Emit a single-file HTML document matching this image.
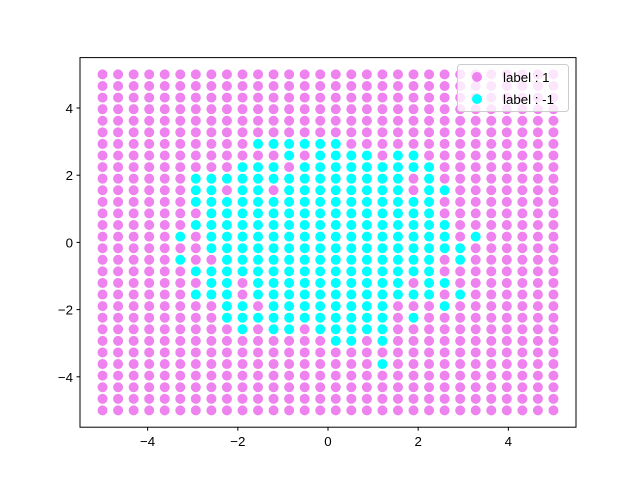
<!DOCTYPE html>
<html><head><meta charset="utf-8"><style>
body{margin:0;background:#fff}
svg{display:block;font-family:"Liberation Sans","DejaVu Sans",sans-serif}
</style></head><body>
<svg id="chart" width="640" height="480" xmlns="http://www.w3.org/2000/svg">
<rect width="640" height="480" fill="#fff"/>
<g id="pts1"></g>
<g id="pts2"></g>
<rect x="80" y="57.6" width="496" height="369.6" fill="none" stroke="#000" stroke-width="1"/>
<g id="xticks"></g>
<g id="yticks"></g>
<g>
<rect x="457.5" y="64.5" width="111" height="47" rx="3" fill="#fff" fill-opacity="0.8" stroke="#ccc"/>
<circle cx="477" cy="77" r="5" fill="#ee82ee"/>
<text x="503" y="82" font-size="13.3">label : 1</text>
<circle cx="477" cy="99" r="5" fill="#00ffff"/>
<text x="503" y="104" font-size="13.3">label : -1</text>
</g>
</svg>
<script>
const gridN = 30;
const xTicks = [-4, -2, 0, 2, 4];
const yTicks = [-4, -2, 0, 2, 4];
// cyan (label -1) column indices per row index j (j=0 bottom, y=-5)
const cyanRows = {
 23:[10,11,12,13,14,15],
 22:[12,14,15,16,17,19,20],
 21:[9,10,11,13,14,15,16,17,18,19,20,21],
 20:[6,7,8,9,10,11,12,13,14,15,16,17,18,19,21],
 19:[6,7,9,10,12,13,14,15,16,17,18,19,21,22],
 18:[6,7,8,9,10,11,12,13,14,15,16,17,18,19,20,21],
 17:[7,8,9,10,11,12,13,14,15,16,17,18,19,20,21],
 16:[6,7,8,9,10,11,12,13,14,15,16,17,18,19,20,21,22],
 15:[5,7,8,9,10,11,12,13,14,15,16,17,18,19,20,21,22,24],
 14:[7,8,9,10,11,12,13,14,15,16,17,18,19,20,21,22,23],
 13:[5,8,9,10,11,12,13,14,15,16,17,18,19,20,21,23],
 12:[6,7,8,9,10,11,12,13,14,15,16,17,18,19,20,21],
 11:[7,8,10,11,12,13,14,15,16,17,18,19,21,22],
 10:[6,7,8,10,11,12,13,14,15,16,17,18,19,20,21,23],
 9:[8,9,11,12,13,14,15,16,17,18,22],
 8:[8,9,10,11,12,13,14,15,16,17,18,20],
 7:[9,11,12,14,15,16,17,18],
 6:[15,16,18],
 4:[18]
};
const xMin=-5.5,xMax=5.5,yMin=-5.5,yMax=5.5;
const L=80,T=57.6,W=496,H=369.6;
function sx(v){return L+(v-xMin)/(xMax-xMin)*W;}
function sy(v){return T+(yMax-v)/(yMax-yMin)*H;}
const NS="http://www.w3.org/2000/svg";
const g1=document.getElementById('pts1'),g2=document.getElementById('pts2');
for(let j=0;j<gridN;j++){
 const yv=-5+10*j/(gridN-1);
 const cy=cyanRows[j]||[];
 for(let i=0;i<gridN;i++){
  const xv=-5+10*i/(gridN-1);
  const isC=cy.indexOf(i)>=0;
  const c=document.createElementNS(NS,'circle');
  c.setAttribute('cx',sx(xv));c.setAttribute('cy',sy(yv));c.setAttribute('r',5);
  c.setAttribute('fill',isC?'#00ffff':'#ee82ee');
  
  
  (isC?g2:g1).appendChild(c);
 }
}
const gx=document.getElementById('xticks');
xTicks.forEach(v=>{
 const x=sx(v);
 const l=document.createElementNS(NS,'line');
 l.setAttribute('x1',x);l.setAttribute('x2',x);l.setAttribute('y1',427.2);l.setAttribute('y2',430.7);l.setAttribute('stroke','#000');
 
 
 gx.appendChild(l);
 const t=document.createElementNS(NS,'text');
 t.setAttribute('x',x);t.setAttribute('y',446);t.setAttribute('font-size','13.3');t.setAttribute('text-anchor','middle');
 t.textContent=(v<0?'\u2212':'')+Math.abs(v);
 
 
 gx.appendChild(t);
});
const gy=document.getElementById('yticks');
yTicks.forEach(v=>{
 const y=sy(v);
 const l=document.createElementNS(NS,'line');
 l.setAttribute('x1',76.5);l.setAttribute('x2',80);l.setAttribute('y1',y);l.setAttribute('y2',y);l.setAttribute('stroke','#000');
 
 
 gy.appendChild(l);
 const t=document.createElementNS(NS,'text');
 t.setAttribute('x',73);t.setAttribute('y',y+5);t.setAttribute('font-size','13.3');t.setAttribute('text-anchor','end');
 t.textContent=(v<0?'\u2212':'')+Math.abs(v);
 
 
 gy.appendChild(t);
});
</script>
</body></html>
